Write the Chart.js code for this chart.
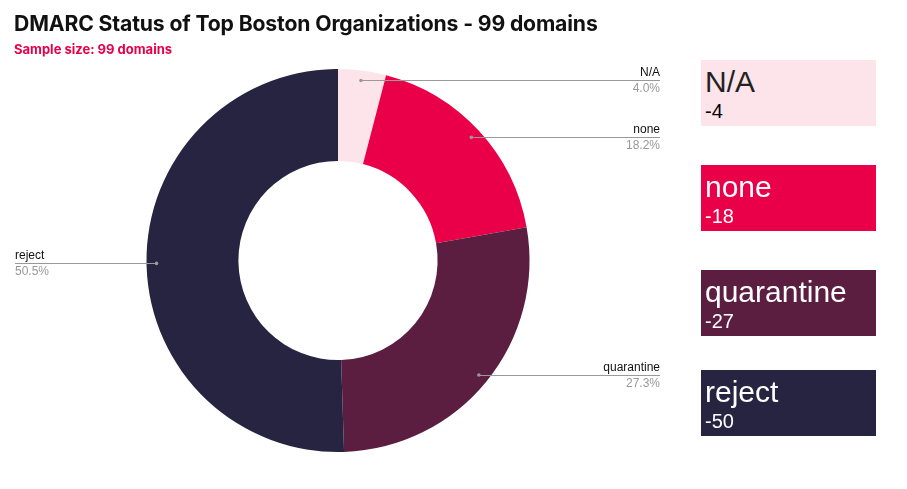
<!DOCTYPE html>
<html>
<head>
<meta charset="utf-8">
<script src="https://cdn.jsdelivr.net/npm/chart.js@4.4.0/dist/chart.umd.min.js"></script>
<style>
  html, body { margin: 0; padding: 0; background: #fff; }
  #wrap { position: relative; width: 907px; height: 489px; overflow: hidden; }
  #title { position: absolute; left: 14px; top: 10px; font: 700 21.2px "Inter", sans-serif; color: #111; white-space: nowrap; letter-spacing: -0.15px; }
  #subtitle { position: absolute; left: 14px; top: 41px; font: 700 13px "Inter", sans-serif; color: #e90048; white-space: nowrap; }
  canvas { position: absolute; left: 0; top: 0; }
  .box { position: absolute; left: 701px; width: 175px; height: 66px; box-sizing: border-box; padding: 7px 0 0 4px; font-family: "Liberation Sans", Arial, sans-serif; }
  .box .lab { font-size: 30px; line-height: 30px; }
  .box .val { font-size: 20px; line-height: 22px; margin-top: 3px; }
</style>
</head>
<body>
<div id="wrap">
  <canvas id="chart" width="907" height="489"></canvas>
  <div id="title">DMARC Status of Top Boston Organizations - 99 domains</div>
  <div id="subtitle">Sample size: 99 domains</div>
  <div id="legend"></div>
</div>
<script>
// --- DATA ---
const categories = ["N/A", "none", "quarantine", "reject"];
const counts = [4, 18, 27, 50];
const sliceColors = ["#fde4ea", "#e90048", "#5b1e40", "#272442"];
const boxText = ["#222222", "#ffffff", "#ffffff", "#ffffff"];

// legend box tops (layout)
const boxTops = [60, 165, 270, 370];

const total = counts.reduce((a, b) => a + b, 0);

// --- LEGEND BOXES ---
const legendEl = document.getElementById("legend");
categories.forEach((name, i) => {
  const d = document.createElement("div");
  d.className = "box";
  d.style.top = boxTops[i] + "px";
  d.style.background = sliceColors[i];
  d.style.color = boxText[i];
  d.innerHTML = `<div class="lab">${name}</div><div class="val" style="color:${i === 0 ? '#000' : '#fff'}">-${counts[i]}</div>`;
  legendEl.appendChild(d);
});

// --- LEADER LINE LABELS ---
const leaderLabels = {
  id: "leaderLabels",
  afterDatasetsDraw(chart) {
    const ctx = chart.ctx;
    const meta = chart.getDatasetMeta(0);
    meta.data.forEach((arc, i) => {
      const p = arc.getProps(["x", "y", "startAngle", "endAngle", "outerRadius"], true);
      const mid = (p.startAngle + p.endAngle) / 2;
      const r = p.outerRadius - 10;
      const px = p.x + Math.cos(mid) * r;
      const py = p.y + Math.sin(mid) * r;
      const right = Math.cos(mid) >= 0;
      const endX = right ? 660 : 15;
      const pct = (counts[i] / total * 100).toFixed(1) + "%";

      ctx.save();
      ctx.strokeStyle = "#999";
      ctx.lineWidth = 1;
      ctx.beginPath();
      ctx.moveTo(px, Math.round(py) + 0.5);
      ctx.lineTo(endX, Math.round(py) + 0.5);
      ctx.stroke();
      ctx.fillStyle = "#999";
      ctx.beginPath();
      ctx.arc(px, py, 1.8, 0, Math.PI * 2);
      ctx.fill();

      ctx.font = "12px 'Liberation Sans', Arial, sans-serif";
      ctx.textAlign = right ? "right" : "left";
      ctx.textBaseline = "alphabetic";
      ctx.fillStyle = "#111";
      ctx.fillText(categories[i], endX, py - 4);
      ctx.fillStyle = "#999";
      ctx.fillText(pct, endX, py + 12);
      ctx.restore();
    });
  }
};

// --- CHART ---
new Chart(document.getElementById("chart").getContext("2d"), {
  type: "doughnut",
  data: {
    labels: categories,
    datasets: [{
      data: counts,
      backgroundColor: sliceColors,
      borderWidth: 0
    }]
  },
  options: {
    responsive: false,
    animation: false,
    cutout: "52%",
    layout: { padding: { top: 69, bottom: 37, left: 146, right: 377 } },
    plugins: {
      legend: { display: false },
      tooltip: { enabled: false },
      title: { display: false }
    }
  },
  plugins: [leaderLabels]
});
</script>
</body>
</html>
